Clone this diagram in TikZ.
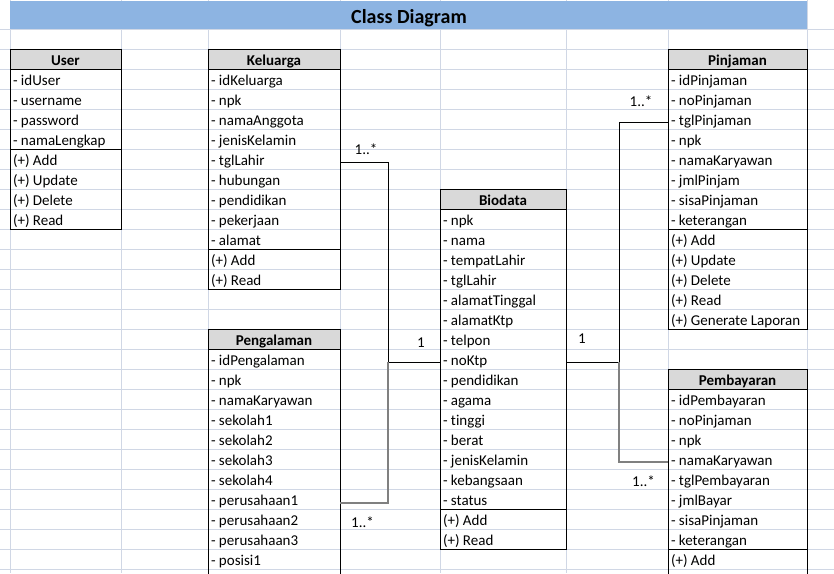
\documentclass[tikz,border=0pt]{standalone}
\usepackage{fontspec}
\setmainfont{Carlito}[Ligatures=NoCommon]
\usepackage{tikz}
\usetikzlibrary{positioning,fit}

\definecolor{gridblue}{HTML}{D0D7E5}
\definecolor{barblue}{HTML}{8DB4E2}
\definecolor{headgray}{HTML}{D9D9D9}

\begin{document}
\begin{tikzpicture}[x=1pt,y=-1pt,
  cell/.style={rectangle,inner xsep=3pt,inner ysep=0pt,outer sep=0pt,minimum height=20pt,text height=14pt,text depth=2pt,align=flush left,font=\fontsize{15}{18}\selectfont},
  head/.style={fill=headgray,align=flush center,font=\fontsize{15}{18}\selectfont\bfseries},
  uc/.style={cell,text width=105pt},
  kc/.style={cell,text width=126pt},
  bc/.style={cell,text width=120pt},
  jc/.style={cell,text width=133pt},
  box/.style={draw=black,line width=1pt,inner sep=0pt},
  boxline/.style={draw=black,line width=1pt},
  gridln/.style={draw=gridblue,line width=1pt},
  link/.style={draw=black,line width=1pt},
  linkgray/.style={draw=black!50,line width=1.5pt},
  mult/.style={anchor=base,font=\fontsize{15}{18}\selectfont}]
\useasboundingbox (0,0) rectangle (834,573);
\clip (0,0) rectangle (834,573);
% sheet
\foreach \y in {29,49,...,569} \draw[gridln] (0,\y) -- (834,\y);
\foreach \x in {10,121,208,340,440,566,668,807} \draw[gridln] (\x,0) -- (\x,573);
\node[fill=barblue,minimum width=797pt,minimum height=28pt,inner sep=0pt](bar) at (408.5,15){};
\node[anchor=base,font=\fontsize{20}{24}\selectfont\bfseries](title) at (409,23){Class Diagram};
% User
\node[uc,head](u0) at (65.5,59){User};
\node[uc,below=0pt of u0](u1){- idUser};
\node[uc,below=0pt of u1](u2){- username};
\node[uc,below=0pt of u2](u3){- password};
\node[uc,below=0pt of u3](u4){- namaLengkap};
\node[uc,below=0pt of u4](u5){(+) Add};
\node[uc,below=0pt of u5](u6){(+) Update};
\node[uc,below=0pt of u6](u7){(+) Delete};
\node[uc,below=0pt of u7](u8){(+) Read};
\node[box,fit=(u0)(u8)](user){};
\draw[boxline] (u0.south west) -- (u0.south east);
\draw[boxline] (u4.south west) -- (u4.south east);
% Keluarga
\node[kc,head](k0) at (274,59){Keluarga};
\node[kc,below=0pt of k0](k1){- idKeluarga};
\node[kc,below=0pt of k1](k2){- npk};
\node[kc,below=0pt of k2](k3){- namaAnggota};
\node[kc,below=0pt of k3](k4){- jenisKelamin};
\node[kc,below=0pt of k4](k5){- tglLahir};
\node[kc,below=0pt of k5](k6){- hubungan};
\node[kc,below=0pt of k6](k7){- pendidikan};
\node[kc,below=0pt of k7](k8){- pekerjaan};
\node[kc,below=0pt of k8](k9){- alamat};
\node[kc,below=0pt of k9](k10){(+) Add};
\node[kc,below=0pt of k10](k11){(+) Read};
\node[box,fit=(k0)(k11)](keluarga){};
\draw[boxline] (k0.south west) -- (k0.south east);
\draw[boxline] (k9.south west) -- (k9.south east);
% Pengalaman
\node[kc,head](g0) at (274,339){Pengalaman};
\node[kc,below=0pt of g0](g1){- idPengalaman};
\node[kc,below=0pt of g1](g2){- npk};
\node[kc,below=0pt of g2](g3){- namaKaryawan};
\node[kc,below=0pt of g3](g4){- sekolah1};
\node[kc,below=0pt of g4](g5){- sekolah2};
\node[kc,below=0pt of g5](g6){- sekolah3};
\node[kc,below=0pt of g6](g7){- sekolah4};
\node[kc,below=0pt of g7](g8){- perusahaan1};
\node[kc,below=0pt of g8](g9){- perusahaan2};
\node[kc,below=0pt of g9](g10){- perusahaan3};
\node[kc,below=0pt of g10](g11){- posisi1};
\draw[boxline] ([yshift=-30pt]g11.south west) |- (g0.north east) -- ([yshift=-30pt]g11.south east);
\draw[boxline] (g0.south west) -- (g0.south east);
% Biodata
\node[bc,head](b0) at (503,199){Biodata};
\node[bc,below=0pt of b0](b1){- npk};
\node[bc,below=0pt of b1](b2){- nama};
\node[bc,below=0pt of b2](b3){- tempatLahir};
\node[bc,below=0pt of b3](b4){- tglLahir};
\node[bc,below=0pt of b4](b5){- alamatTinggal};
\node[bc,below=0pt of b5](b6){- alamatKtp};
\node[bc,below=0pt of b6](b7){- telpon};
\node[bc,below=0pt of b7](b8){- noKtp};
\node[bc,below=0pt of b8](b9){- pendidikan};
\node[bc,below=0pt of b9](b10){- agama};
\node[bc,below=0pt of b10](b11){- tinggi};
\node[bc,below=0pt of b11](b12){- berat};
\node[bc,below=0pt of b12](b13){- jenisKelamin};
\node[bc,below=0pt of b13](b14){- kebangsaan};
\node[bc,below=0pt of b14](b15){- status};
\node[bc,below=0pt of b15](b16){(+) Add};
\node[bc,below=0pt of b16](b17){(+) Read};
\node[box,fit=(b0)(b17)](biodata){};
\draw[boxline] (b0.south west) -- (b0.south east);
\draw[boxline] (b15.south west) -- (b15.south east);
% Pinjaman
\node[jc,head](j0) at (737.5,59){Pinjaman};
\node[jc,below=0pt of j0](j1){- idPinjaman};
\node[jc,below=0pt of j1](j2){- noPinjaman};
\node[jc,below=0pt of j2](j3){- tglPinjaman};
\node[jc,below=0pt of j3](j4){- npk};
\node[jc,below=0pt of j4](j5){- namaKaryawan};
\node[jc,below=0pt of j5](j6){- jmlPinjam};
\node[jc,below=0pt of j6](j7){- sisaPinjaman};
\node[jc,below=0pt of j7](j8){- keterangan};
\node[jc,below=0pt of j8](j9){(+) Add};
\node[jc,below=0pt of j9](j10){(+) Update};
\node[jc,below=0pt of j10](j11){(+) Delete};
\node[jc,below=0pt of j11](j12){(+) Read};
\node[jc,below=0pt of j12](j13){(+) Generate Laporan};
\node[box,fit=(j0)(j13)](pinjaman){};
\draw[boxline] (j0.south west) -- (j0.south east);
\draw[boxline] (j8.south west) -- (j8.south east);
% Pembayaran
\node[jc,head](p0) at (737.5,379){Pembayaran};
\node[jc,below=0pt of p0](p1){- idPembayaran};
\node[jc,below=0pt of p1](p2){- noPinjaman};
\node[jc,below=0pt of p2](p3){- npk};
\node[jc,below=0pt of p3](p4){- namaKaryawan};
\node[jc,below=0pt of p4](p5){- tglPembayaran};
\node[jc,below=0pt of p5](p6){- jmlBayar};
\node[jc,below=0pt of p6](p7){- sisaPinjaman};
\node[jc,below=0pt of p7](p8){- keterangan};
\node[jc,below=0pt of p8](p9){(+) Add};
\draw[boxline] ([yshift=-30pt]p9.south west) |- (p0.north east) -- ([yshift=-30pt]p9.south east);
\draw[boxline] (p0.south west) -- (p0.south east);
\draw[boxline] (p8.south west) -- (p8.south east);
% relations
\coordinate (jl) at (388,362);
\coordinate (jr) at (619,362);
\draw[link] ([yshift=-3pt]k5.east) -| (jl) -- ([yshift=-3pt]b8.west);
\draw[linkgray] ([yshift=-4pt]g8.east) -| (jl);
\draw[link] ([yshift=-3pt]b8.east) -| (jr) |- ([yshift=-3pt]j3.west);
\draw[linkgray] (jr) |- ([yshift=-3pt]p4.west);
\node[mult](mk) at (366,154){1..*};
\node[mult](mb1) at (421,347){1};
\node[mult](mg) at (362.5,527){1..*};
\node[mult](mb2) at (582,343){1};
\node[mult](mj) at (641,106){1..*};
\node[mult](mp) at (643.5,486){1..*};
\end{tikzpicture}
\end{document}
